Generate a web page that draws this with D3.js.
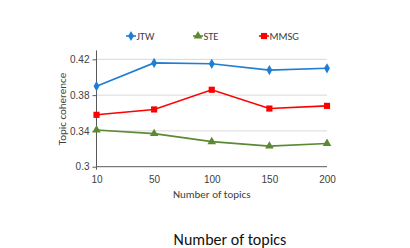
<!DOCTYPE html>
<html><head><meta charset="utf-8">
<script src="https://cdn.jsdelivr.net/npm/d3@7"></script>
<style>body{margin:0;background:#fff;}svg{display:block;font-family:Carlito,Lato,"Liberation Sans",sans-serif;}</style>
</head><body>
<svg id="c" width="410" height="248"></svg>
<script>
const categories = ["10","50","100","150","200"];
const jtw  = [0.390, 0.416, 0.415, 0.408, 0.410];
const ste  = [0.341, 0.337, 0.328, 0.323, 0.326];
const mmsg = [0.358, 0.364, 0.386, 0.365, 0.368];
const yTicks = [0.3, 0.34, 0.38, 0.42];
const yTickLabels = ["0.3","0.34","0.38","0.42"];
const seriesNames = ["JTW","STE","MMSG"];

const series = [
  {name: seriesNames[0], values: jtw,  color: "#1f7dd2", shape: "diamond"},
  {name: seriesNames[1], values: ste,  color: "#5a8a32", shape: "triangle"},
  {name: seriesNames[2], values: mmsg, color: "#ff0000", shape: "square"}
];

const svg = d3.select("#c");
const x = d3.scalePoint().domain(categories).range([96.5, 327]);
const y = d3.scaleLinear().domain([0.3, 0.43]).range([166.7, 50.4]);

// gridlines
svg.append("g").selectAll("line").data(yTicks.slice(1)).join("line")
  .attr("x1", 96.5).attr("x2", 327).attr("y1", d => y(d)).attr("y2", d => y(d))
  .attr("stroke", "#d9d9d9").attr("stroke-width", 1);

// y axis
const yAxis = d3.axisLeft(y).tickValues(yTicks).tickFormat((d,i) => yTickLabels[i]).tickSize(4).tickPadding(3);
const gy = svg.append("g").attr("transform", "translate(96.5,0)").call(yAxis);
gy.select(".domain").attr("stroke", "#595959").attr("d", `M0,${y(0.43)}V${y(0.3)}`);
gy.selectAll(".tick line").attr("stroke", "#595959");
gy.selectAll("text").attr("font-size", 10).attr("fill", "#404040").attr("font-family", "inherit");

// x axis
const xAxis = d3.axisBottom(x).tickSize(0).tickPadding(9);
const gx = svg.append("g").attr("transform", `translate(0,${y(0.3)})`).call(xAxis);
gx.select(".domain").attr("stroke", "#595959").attr("d", `M96.5,3V0H327`);
gx.selectAll("text").attr("font-size", 10).attr("fill", "#404040").attr("font-family", "inherit");

// axis titles
svg.append("text").attr("x", 211.7).attr("y", 198).attr("text-anchor", "middle")
  .attr("font-size", 11).attr("fill", "#404040").text("Number of topics");
svg.append("text").attr("transform", "translate(66,109) rotate(-90)").attr("text-anchor", "middle")
  .attr("font-size", 11).attr("fill", "#404040").text("Topic coherence");

// lines
const line = d3.line().x((d,i) => x(categories[i])).y(d => y(d));
const symbolOf = s => s === "diamond" ? d3.symbolDiamond : s === "triangle" ? d3.symbolTriangle : d3.symbolSquare;
const sizeOf = s => s === "diamond" ? 30 : s === "triangle" ? 32 : 38;

series.forEach(s => {
  svg.append("path").attr("d", line(s.values)).attr("fill", "none")
    .attr("stroke", s.color).attr("stroke-width", 1.6);
  svg.append("g").selectAll("path").data(s.values).join("path")
    .attr("transform", (d,i) => `translate(${x(categories[i])},${y(d)})`)
    .attr("d", d3.symbol().type(symbolOf(s.shape)).size(sizeOf(s.shape)))
    .attr("fill", s.color);
});

// legend
const legendX = [126, 193, 259];
series.forEach((s, i) => {
  const g = svg.append("g").attr("transform", `translate(${legendX[i]},36)`);
  g.append("line").attr("x1", 0).attr("x2", 10).attr("stroke", s.color).attr("stroke-width", 1.6);
  g.append("path").attr("transform", "translate(5,0)")
    .attr("d", d3.symbol().type(symbolOf(s.shape)).size(sizeOf(s.shape))).attr("fill", s.color);
  g.append("text").attr("x", 10.5).attr("y", 3.6).attr("font-size", 10.5).attr("fill", "#404040").text(s.name);
});

// bottom title
svg.append("text").attr("x", 230).attr("y", 245).attr("text-anchor", "middle")
  .attr("font-size", 16).attr("fill", "#111").text("Number of topics");
</script>
</body></html>
